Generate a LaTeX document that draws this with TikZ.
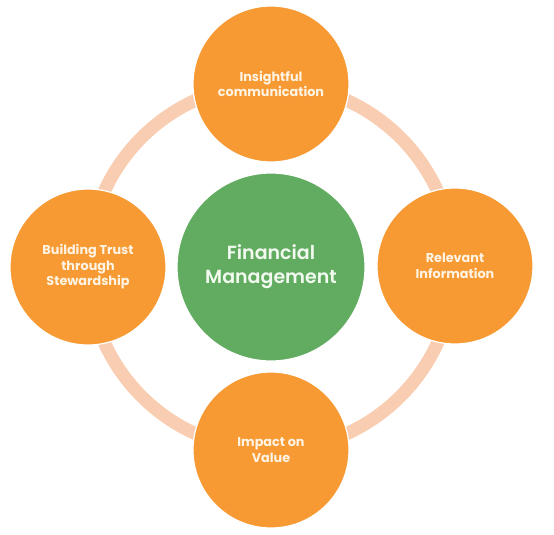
\documentclass[tikz,border=0pt]{standalone}
\usepackage{fontspec}
\setmainfont{Poppins}
\newfontfamily\hubfont{Poppins SemiBold}
\usetikzlibrary{positioning}

\begin{document}
\begin{tikzpicture}[
    x=1pt, y=-1pt,
    bubble/.style={circle, draw=white, line width=1.2pt, fill=mutedorange,
        minimum size=156pt, inner sep=0pt, align=center, text=textcream,
        font=\bfseries\fontsize{12.8}{15.5}\selectfont},
    hub/.style={circle, draw=white, line width=1.2pt, fill=mutedgreen,
        minimum size=188pt, inner sep=0pt, align=center, text=textmint,
        font=\hubfont\fontsize{19}{24}\selectfont}
]
    % 画布尺寸：554 x 535
    \path[use as bounding box] (0, 0) rectangle (554, 535);

    % ==========================================
    % 配色
    % ==========================================
    \definecolor{mutedorange}{HTML}{F79A33}   % 外圈圆
    \definecolor{mutedgreen}{HTML}{62AC61}    % 中心圆
    \definecolor{ringpeach}{HTML}{F9CDB1}     % 环
    \definecolor{textcream}{HTML}{FFF4E4}
    \definecolor{textmint}{HTML}{F2FAF0}

    % ==========================================
    % 背景环
    % ==========================================
    \coordinate (ringcentre) at (271, 267);
    \draw[ringpeach, line width=13pt] (ringcentre) circle (183);

    % ==========================================
    % 中心与四个外圈
    % ==========================================
    \node[hub] (finance) at (ringcentre) {Financial\\Management};

    \node[bubble] (insight) at (271, 84) {Insightful\\communication};
    \node[bubble] (relevant) at (455, 266) {Relevant\\Information};
    \node[bubble] (impact) at (271, 450) {Impact on\\Value};
    \node[bubble] (trust) at (88, 267) {Building Trust\\through\\Stewardship};

\end{tikzpicture}
\end{document}
